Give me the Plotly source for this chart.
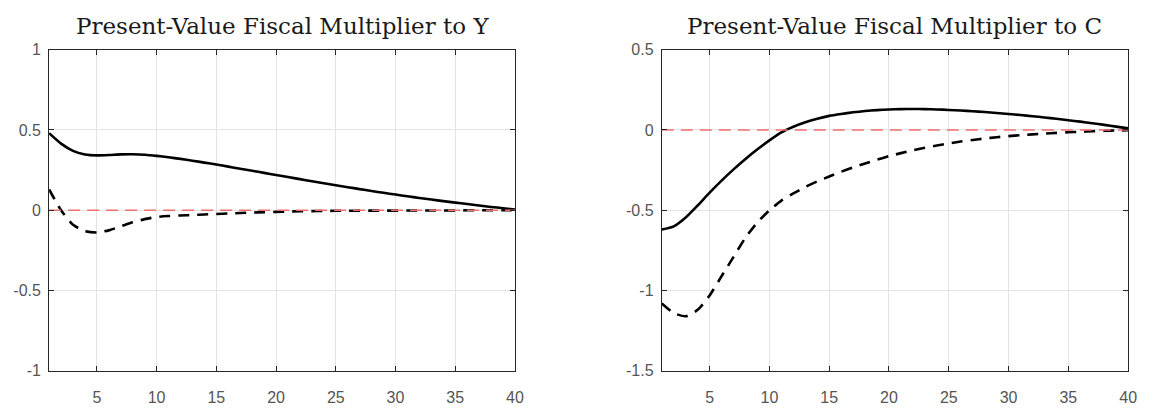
import plotly.graph_objects as go

periods = list(range(1, 41))

y_solid = [0.48, 0.415, 0.37, 0.348, 0.342, 0.344, 0.348, 0.349, 0.346, 0.339,
           0.33, 0.32, 0.309, 0.297, 0.285, 0.272, 0.259, 0.246, 0.233, 0.22,
           0.207, 0.194, 0.181, 0.168, 0.156, 0.144, 0.132, 0.12, 0.109, 0.098,
           0.087, 0.077, 0.067, 0.057, 0.048, 0.039, 0.03, 0.021, 0.013, 0.005]
y_dashed = [0.13, 0.0, -0.09, -0.13, -0.138, -0.125, -0.1, -0.075, -0.055, -0.042,
            -0.036, -0.032, -0.029, -0.026, -0.023, -0.02, -0.017, -0.014, -0.012, -0.01,
            -0.008, -0.006, -0.005, -0.004, -0.003, -0.003, -0.002, -0.002, -0.002, -0.002,
            -0.001, -0.001, -0.001, -0.001, -0.001, 0.0, 0.0, 0.0, 0.0, 0.0]
c_solid = [-0.62, -0.6, -0.545, -0.47, -0.39, -0.315, -0.245, -0.18, -0.12, -0.065,
           -0.015, 0.02, 0.048, 0.07, 0.088, 0.1, 0.11, 0.118, 0.124, 0.128,
           0.13, 0.131, 0.13, 0.128, 0.125, 0.121, 0.117, 0.112, 0.106, 0.1,
           0.093, 0.086, 0.078, 0.07, 0.061, 0.052, 0.042, 0.032, 0.021, 0.01]
c_dashed = [-1.08, -1.14, -1.16, -1.12, -1.03, -0.91, -0.79, -0.67, -0.575, -0.5,
            -0.44, -0.395, -0.355, -0.32, -0.29, -0.26, -0.233, -0.208, -0.185, -0.163,
            -0.144, -0.127, -0.111, -0.097, -0.084, -0.072, -0.062, -0.053, -0.045, -0.038,
            -0.032, -0.027, -0.022, -0.018, -0.014, -0.011, -0.008, -0.005, -0.003, -0.001]
zero_line = [0.0] * 40

titles = ["Present-Value Fiscal Multiplier to Y", "Present-Value Fiscal Multiplier to C"]
x_ticks = [5, 10, 15, 20, 25, 30, 35, 40]
y_ticks_left = [-1, -0.5, 0, 0.5, 1]
y_ticks_right = [-1.5, -1, -0.5, 0, 0.5]


def lab(v):
    return "%g" % v


W, H = 1155, 412
fig = go.Figure()

panels = [
    ("x", "y", y_solid, y_dashed),
    ("x2", "y2", c_solid, c_dashed),
]
for xa, ya, s, d in panels:
    fig.add_trace(go.Scatter(x=periods, y=s, xaxis=xa, yaxis=ya, mode="lines",
                             line=dict(color="black", width=2.6, shape="spline", smoothing=0.6),
                             showlegend=False))
    fig.add_trace(go.Scatter(x=periods, y=d, xaxis=xa, yaxis=ya, mode="lines",
                             line=dict(color="black", width=2.6, dash="11px,8px", shape="spline", smoothing=0.6),
                             showlegend=False))
    fig.add_trace(go.Scatter(x=periods, y=zero_line, xaxis=xa, yaxis=ya, mode="lines",
                             line=dict(color="#f07070", width=1.6, dash="12px,7px"), showlegend=False))

axis_common = dict(showline=True, linecolor="#262626", linewidth=1, mirror="ticks",
                   ticks="inside", ticklen=5, tickcolor="#262626", tickwidth=1,
                   showgrid=True, gridcolor="#e3e3e3", gridwidth=1, zeroline=False,
                   tickfont=dict(family="Liberation Sans, Arial, sans-serif", size=16, color="#555555"))

ydom = [(H - 378.5) / H, (H - 43.5) / H]
xdom1 = [49.5 / W, 519 / W]
xdom2 = [667 / W, 1137 / W]

fig.update_layout(
    width=W, height=H,
    margin=dict(l=0, r=0, t=0, b=0),
    paper_bgcolor="white", plot_bgcolor="white",
    xaxis=dict(domain=xdom1, range=[1, 40], tickvals=x_ticks, anchor="y",
               ticklabelstandoff=12, **axis_common),
    yaxis=dict(domain=ydom, range=[-1, 1], tickvals=y_ticks_left,
               ticktext=[lab(v) for v in y_ticks_left], anchor="x",
               ticklabelstandoff=4, **axis_common),
    xaxis2=dict(domain=xdom2, range=[1, 40], tickvals=x_ticks, anchor="y2",
                ticklabelstandoff=12, **axis_common),
    yaxis2=dict(domain=ydom, range=[-1.5, 0.5], tickvals=y_ticks_right,
                ticktext=[lab(v) for v in y_ticks_right], anchor="x2",
                ticklabelstandoff=4, **axis_common),
)

for dom, t in zip([xdom1, xdom2], titles):
    fig.add_annotation(text=t, x=(dom[0] + dom[1]) / 2, y=(H - 19) / H,
                       xref="paper", yref="paper", showarrow=False,
                       xanchor="center", yanchor="middle",
                       font=dict(family="DejaVu Serif, serif", size=23, color="#1a1a1a"))

fig.write_html("out.html")
